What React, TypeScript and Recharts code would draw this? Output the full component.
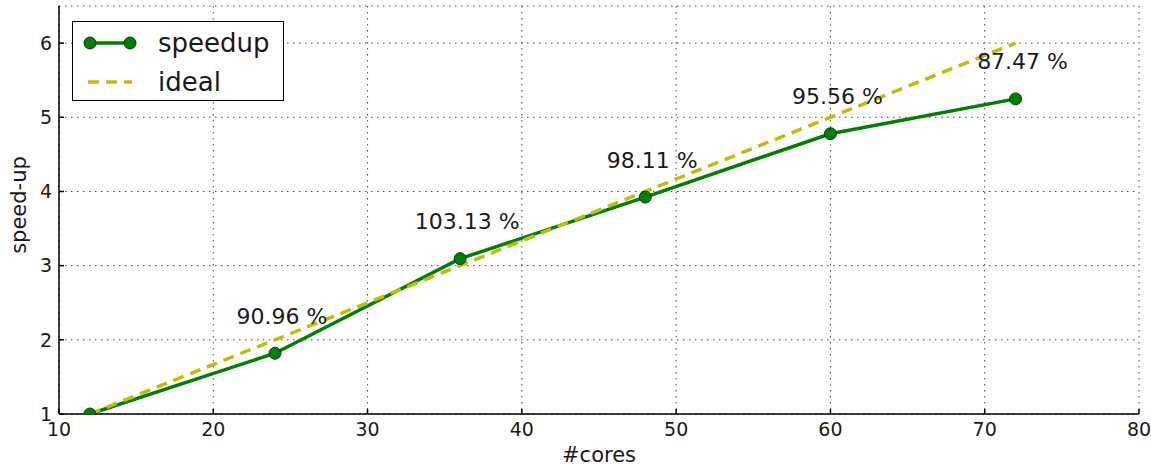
import React from 'react';
import { CartesianGrid, LabelList, Legend, Line, LineChart, XAxis, YAxis } from 'recharts';

const cores = [12, 24, 36, 48, 60, 72];
const speedup = [1.0, 1.819, 3.094, 3.924, 4.778, 5.248];
const ideal = [1, 2, 3, 4, 5, 6];
const efficiency = ['', '90.96 %', '103.13 %', '98.11 %', '95.56 %', '87.47 %'];
const xTicks = [10, 20, 30, 40, 50, 60, 70, 80];
const yTicks = [1, 2, 3, 4, 5, 6];

const data = cores.map((c, i) => ({ cores: c, speedup: speedup[i], ideal: ideal[i], eff: efficiency[i] }));

const FONT = '"DejaVu Sans", sans-serif';
const GREEN = '#008000';
const YELLOW = '#bfbf00';

const EffLabel = (props: any) => {
  const { x, y, value } = props;
  if (!value) return null;
  return (
    <text x={x + 7} y={y - 37} textAnchor="middle" dominantBaseline="central" fontSize={22} fontFamily={FONT} fill="#1a1a1a">
      {value}
    </text>
  );
};

const LegendBox = () => (
  <div style={{ width: 212, height: 80, border: '1.5px solid #000', background: '#fff', boxSizing: 'border-box', fontFamily: FONT, fontSize: 26, color: '#1a1a1a' }}>
    <svg width={209} height={77} style={{ position: 'absolute', left: 0, top: 0 }}>
      <line x1={16} y1={22} x2={60} y2={22} stroke={GREEN} strokeWidth={3.5} />
      <circle cx={18} cy={22} r={6} fill={GREEN} stroke="#0b3d0b" strokeWidth={1} />
      <circle cx={58} cy={22} r={6} fill={GREEN} stroke="#0b3d0b" strokeWidth={1} />
      <line x1={16} y1={61} x2={60} y2={61} stroke={YELLOW} strokeWidth={3.5} strokeDasharray="11 7" />
      <text x={86} y={22} dominantBaseline="central" fontSize={26} fontFamily={FONT} fill="#1a1a1a">speedup</text>
      <text x={86} y={61} dominantBaseline="central" fontSize={26} fontFamily={FONT} fill="#1a1a1a">ideal</text>
    </svg>
  </div>
);

const tickStyle = { fontSize: 19, fontFamily: FONT, fill: '#1a1a1a' };

export default function App() {
  return (
    <div style={{ position: 'absolute', left: 0, top: 0, background: '#fff' }}>
      <LineChart width={1151} height={466} data={data} margin={{ top: 6, right: 12, left: 0, bottom: 0 }}>
        <CartesianGrid stroke="#444" strokeWidth={1} strokeDasharray="1.5 4.5" />
        <XAxis
          dataKey="cores"
          type="number"
          domain={[10, 80]}
          ticks={xTicks}
          height={52}
          stroke="#000"
          strokeWidth={1.5}
          tickSize={-5}
          tickMargin={14}
          tick={tickStyle}
          label={(p: any) => (
            <text x={599} y={455} textAnchor="middle" dominantBaseline="central" fontSize={21} fontFamily={FONT} fill="#1a1a1a">#cores</text>
          )}
        />
        <XAxis xAxisId="top" orientation="top" dataKey="cores" type="number" domain={[10, 80]} ticks={xTicks} height={0} stroke="#000" strokeWidth={1.5} tickSize={-5} tick={false} />
        <YAxis
          type="number"
          domain={[1, 6.5]}
          ticks={yTicks}
          width={59}
          stroke="#000"
          strokeWidth={1.5}
          tickSize={-5}
          tickMargin={12}
          tick={tickStyle}
          allowDataOverflow
          label={(p: any) => (
            <text x={19} y={205} transform="rotate(-90, 19, 205)" textAnchor="middle" dominantBaseline="central" fontSize={21} fontFamily={FONT} fill="#1a1a1a">speed-up</text>
          )}
        />
        <YAxis yAxisId="right" orientation="right" type="number" domain={[1, 6.5]} ticks={yTicks} width={0} stroke="#000" strokeWidth={1.5} tickSize={-5} tick={false} />
        <Legend layout="vertical" align="center" verticalAlign="middle" wrapperStyle={{ left: 72, top: 21, width: 212 }} content={() => <LegendBox />} />
        <Line dataKey="speedup" stroke={GREEN} strokeWidth={3.5} isAnimationActive={false} dot={{ r: 6, fill: GREEN, stroke: '#0b3d0b', strokeWidth: 1 }} activeDot={false}>
          <LabelList dataKey="eff" content={EffLabel} />
        </Line>
        <Line dataKey="ideal" stroke={YELLOW} strokeWidth={3.5} strokeDasharray="11 7" dot={false} activeDot={false} isAnimationActive={false} />
      </LineChart>
    </div>
  );
}
